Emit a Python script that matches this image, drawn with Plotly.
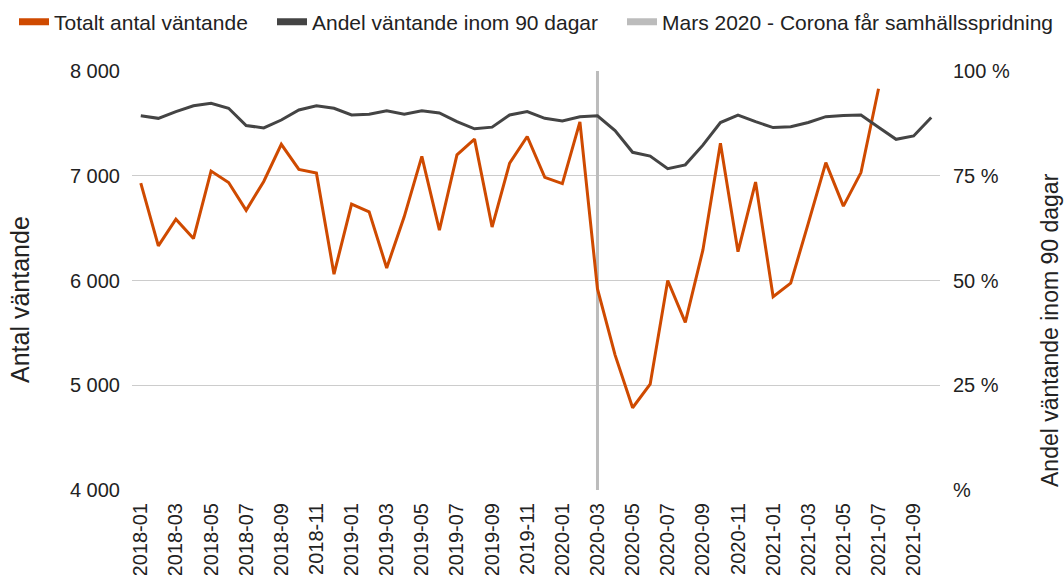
import plotly.graph_objects as go

months = [
    "2018-01", "2018-02", "2018-03", "2018-04", "2018-05", "2018-06",
    "2018-07", "2018-08", "2018-09", "2018-10", "2018-11", "2018-12",
    "2019-01", "2019-02", "2019-03", "2019-04", "2019-05", "2019-06",
    "2019-07", "2019-08", "2019-09", "2019-10", "2019-11", "2019-12",
    "2020-01", "2020-02", "2020-03", "2020-04", "2020-05", "2020-06",
    "2020-07", "2020-08", "2020-09", "2020-10", "2020-11", "2020-12",
    "2021-01", "2021-02", "2021-03", "2021-04", "2021-05", "2021-06",
    "2021-07", "2021-08", "2021-09", "2021-10",
]

totalt_antal = [
    6930, 6330, 6585, 6400, 7045, 6935, 6670, 6945, 7300, 7060, 7025, 6060,
    6730, 6655, 6120, 6610, 7185, 6480, 7200, 7350, 6510, 7120, 7375, 6985,
    6925, 7515, 5920, 5290, 4785, 5010, 6000, 5600, 6290, 7310, 6275, 6940,
    5845, 5975, 6545, 7125, 6710, 7030, 7830,
]

andel_90 = [
    89.3, 88.7, 90.3, 91.7, 92.3, 91.1, 87.0, 86.4, 88.3, 90.7, 91.7, 91.1,
    89.5, 89.7, 90.5, 89.7, 90.5, 90.0, 87.9, 86.2, 86.6, 89.5, 90.3, 88.7,
    88.1, 89.1, 89.3, 85.8, 80.6, 79.7, 76.7, 77.6, 82.3, 87.7, 89.5, 87.9,
    86.5, 86.7, 87.7, 89.1, 89.4, 89.5, 86.6, 83.7, 84.5, 88.9,
]

corona_month = "2020-03"
corona_span = [4000, 8000]

left_tickvals = [4000, 5000, 6000, 7000, 8000]
left_ticktext = ["4 000", "5 000", "6 000", "7 000", "8 000"]
right_tickvals = [0, 25, 50, 75, 100]
right_ticktext = ["%", "25 %", "50 %", "75 %", "100 %"]
x_tickvals = months[::2]

name_total = "Totalt antal väntande"
name_andel = "Andel väntande inom 90 dagar"
name_corona = "Mars 2020 - Corona får samhällsspridning"

ORANGE = "#cf4a00"
DARK = "#444444"
LIGHT = "#bcbcbc"
FONT = "Liberation Sans, Arial, sans-serif"
TXT = "#222222"

fig = go.Figure()

fig.add_trace(go.Scatter(
    x=[corona_month, corona_month], y=corona_span, mode="lines",
    line=dict(color=LIGHT, width=3), showlegend=False, hoverinfo="skip",
))
fig.add_trace(go.Scatter(
    x=months, y=andel_90, mode="lines", yaxis="y2",
    line=dict(color=DARK, width=3), showlegend=False,
))
fig.add_trace(go.Scatter(
    x=months[:len(totalt_antal)], y=totalt_antal, mode="lines",
    line=dict(color=ORANGE, width=3), showlegend=False,
))

# legend entries (rectangular swatches), one legend box each
for nm, col, lg in [(name_total, ORANGE, "legend"),
                    (name_andel, DARK, "legend2"),
                    (name_corona, LIGHT, "legend3")]:
    fig.add_trace(go.Scatter(
        x=[None], y=[None], mode="lines", name=nm, legend=lg,
        line=dict(color=col, width=7), showlegend=True,
    ))

def legend_at(px):
    return dict(
        orientation="h", xref="container", yref="container",
        x=px / 1064, y=1 - 22 / 575, xanchor="left", yanchor="middle",
        font=dict(size=21, color=TXT), bgcolor="rgba(0,0,0,0)",
    )

fig.update_layout(
    width=1064, height=575,
    margin=dict(l=132, r=124, t=71, b=85, autoexpand=False),
    paper_bgcolor="white", plot_bgcolor="white",
    font=dict(family=FONT, size=20, color=TXT),
    showlegend=True,
    legend=legend_at(14),
    legend2=legend_at(272),
    legend3=legend_at(622),
    xaxis=dict(
        type="category", categoryorder="array", categoryarray=months,
        range=[-0.5, len(months) - 0.5],
        tickvals=x_tickvals, tickangle=-90,
        showgrid=False, zeroline=False, showline=False,
        ticks="outside", ticklen=4, tickcolor="rgba(0,0,0,0)",
        automargin=False, tickfont=dict(size=20),
    ),
    yaxis=dict(
        range=[4000, 8000], tickvals=left_tickvals, ticktext=left_ticktext,
        showgrid=True, gridcolor="#cccccc", gridwidth=1, zeroline=False,
        showline=False, ticks="outside", ticklen=7, tickcolor="rgba(0,0,0,0)",
        automargin=False, tickfont=dict(size=20),
    ),
    yaxis2=dict(
        range=[0, 100], tickvals=right_tickvals, ticktext=right_ticktext,
        overlaying="y", side="right", showgrid=False, zeroline=False,
        showline=False, ticks="outside", ticklen=8, tickcolor="rgba(0,0,0,0)",
        automargin=False, tickfont=dict(size=20),
    ),
    annotations=[
        dict(text="Antal väntande", xref="paper", yref="paper",
             x=(20 - 132) / 808, y=(490 - 299) / 419, textangle=-90,
             showarrow=False, xanchor="center", yanchor="middle",
             font=dict(size=25, color=TXT)),
        dict(text="Andel väntande inom 90 dagar", xref="paper", yref="paper",
             x=(1050 - 132) / 808, y=(490 - 330) / 419, textangle=-90,
             showarrow=False, xanchor="center", yanchor="middle",
             font=dict(size=23, color=TXT)),
    ],
)

fig.write_html("out.html", config={"displayModeBar": False},
               post_script="document.body.style.margin='0';")
